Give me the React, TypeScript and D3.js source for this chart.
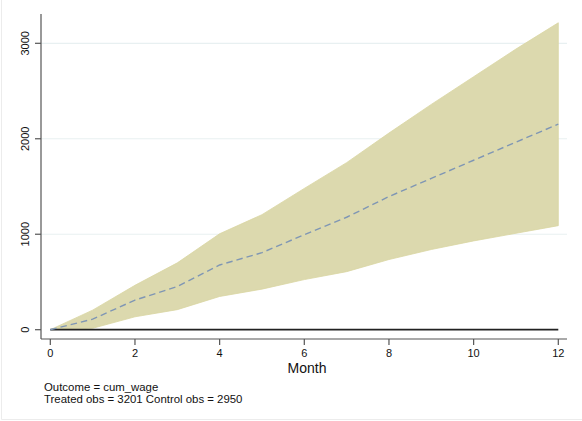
import React from 'react';
import { scaleLinear, area, line } from 'd3';

// months after treatment and the estimated effect with its band
const months = [0, 1, 2, 3, 4, 5, 6, 7, 8, 9, 10, 11, 12];
const upper = [0, 205, 465, 700, 1005, 1205, 1480, 1750, 2060, 2360, 2650, 2940, 3215];
const effect = [0, 110, 310, 452, 678, 807, 995, 1178, 1395, 1585, 1775, 1965, 2153];
const lower = [0, 15, 135, 210, 348, 425, 525, 608, 735, 840, 930, 1010, 1090];

const xTicks = [0, 2, 4, 6, 8, 10, 12];
const yTicks = [0, 1000, 2000, 3000];
const notes = ['Outcome = cum_wage', 'Treated obs = 3201 Control obs = 2950'];

const App = () => {
    const svgWidth = 582;
    const svgHeight = 421;
    const font = '"Liberation Sans", Arial, sans-serif';

    const axisLeft = 41;
    const axisBottom = 339;
    const axisTop = 14;
    const axisRight = 567;

    const x = scaleLinear().domain([0, 12]).range([50.3, 558.3]);
    const y = scaleLinear().domain([0, 3000]).range([329.7, 43.3]);

    const rows = months.map((m, i) => ({ m, lo: lower[i], hi: upper[i], mid: effect[i] }));

    const bandFunc = area<{ m: number, lo: number, hi: number }>()
        .x(d => x(d.m))
        .y0(d => y(d.lo))
        .y1(d => y(d.hi));
    const lineFunc = line<{ m: number, mid: number }>().x(d => x(d.m)).y(d => y(d.mid));

    return (
        <svg width={svgWidth} height={svgHeight} style={{ position: 'absolute', left: 0, top: 0, background: '#fff' }}>
            {/* faint outer frame */}
            <line x1={1.5} x2={1.5} y1={0} y2={419.5} stroke='#ececec' />
            <line x1={1.5} x2={svgWidth} y1={419.5} y2={419.5} stroke='#ececec' />

            {/* gridlines */}
            {yTicks.filter(t => t > 0).map(t => (
                <line key={t} x1={axisLeft} x2={axisRight} y1={y(t)} y2={y(t)} stroke='#e8f0f1' strokeWidth={1.2} />
            ))}

            {/* confidence band */}
            <path d={bandFunc(rows) || ''} fill='#dcd9ae' stroke='#d9d5a2' strokeWidth={0.8} />

            {/* zero line */}
            <line x1={x(0)} x2={x(12)} y1={y(0)} y2={y(0)} stroke='#222' strokeWidth={1.8} />

            {/* point estimate */}
            <path d={lineFunc(rows) || ''} fill='none' stroke='#7f96b4' strokeWidth={1.4} strokeDasharray='6.5,4' />

            {/* y axis */}
            <line x1={axisLeft} x2={axisLeft} y1={axisTop} y2={axisBottom} stroke='#555' strokeWidth={1.2} />
            {yTicks.map(t => (
                <g key={t}>
                    <line x1={axisLeft - 6} x2={axisLeft} y1={y(t)} y2={y(t)} stroke='#555' strokeWidth={1.2} />
                    <text transform={`translate(29,${y(t)}) rotate(-90)`} textAnchor='middle' fontFamily={font} fontSize={11} fill='#111'>{t}</text>
                </g>
            ))}

            {/* x axis */}
            <line x1={axisLeft} x2={axisRight} y1={axisBottom} y2={axisBottom} stroke='#555' strokeWidth={1.2} />
            {xTicks.map(t => (
                <g key={t}>
                    <line x1={x(t)} x2={x(t)} y1={axisBottom} y2={axisBottom + 6} stroke='#555' strokeWidth={1.2} />
                    <text x={x(t)} y={357} textAnchor='middle' fontFamily={font} fontSize={11} fill='#111'>{t}</text>
                </g>
            ))}
            <text x={(axisLeft + axisRight) / 2 + 3} y={373} textAnchor='middle' fontFamily={font} fontSize={14} fill='#111'>Month</text>

            {/* notes */}
            {notes.map((n, i) => (
                <text key={i} x={44} y={391 + i * 11.5} fontFamily={font} fontSize={11.4} fill='#111'>{n}</text>
            ))}
        </svg>
    );
}

export default App;
